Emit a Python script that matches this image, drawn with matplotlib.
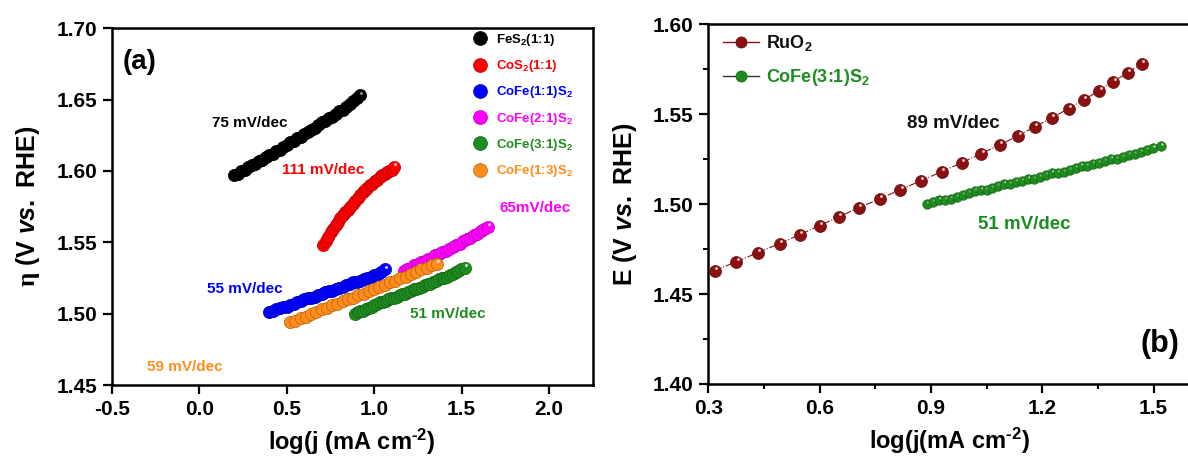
import matplotlib
matplotlib.use("Agg")
import matplotlib.pyplot as plt
from matplotlib.lines import Line2D
from matplotlib.ticker import MultipleLocator, FormatStrFormatter
from matplotlib.transforms import ScaledTranslation
from matplotlib.colors import to_rgb

plt.rcParams.update({
    "font.family": ["Liberation Sans", "DejaVu Sans"],
    "font.weight": "bold",
    "mathtext.fontset": "custom",
    "mathtext.rm": "Liberation Sans:bold",
    "mathtext.it": "Liberation Sans:bold:italic",
    "mathtext.bf": "Liberation Sans:bold",
    "mathtext.sf": "Liberation Serif",
    "axes.linewidth": 1.8,
})

# ---------------- panel (a): Tafel plots of the sulfides ----------------
fes2_x = [0.20, 0.22, 0.24, 0.26, 0.28, 0.30, 0.32, 0.34, 0.36, 0.38, 0.40, 0.42,
          0.44, 0.46, 0.48, 0.50, 0.52, 0.54, 0.56, 0.58, 0.60, 0.62, 0.64, 0.66,
          0.68, 0.70, 0.72, 0.74, 0.76, 0.78, 0.80, 0.82, 0.84, 0.86, 0.88, 0.90, 0.92]
fes2_y = [1.597, 1.598, 1.600, 1.601, 1.603, 1.604, 1.605, 1.607, 1.608, 1.610, 1.611, 1.612,
          1.614, 1.615, 1.617, 1.618, 1.620, 1.621, 1.623, 1.624, 1.626, 1.627, 1.629, 1.630,
          1.632, 1.634, 1.635, 1.637, 1.638, 1.640, 1.642, 1.643, 1.645, 1.647, 1.649, 1.651, 1.653]

cos2_x = [0.710, 0.724, 0.738, 0.752, 0.766, 0.780, 0.794, 0.808, 0.822, 0.836,
          0.850, 0.864, 0.878, 0.892, 0.906, 0.920, 0.934, 0.948, 0.962, 0.976,
          0.990, 1.004, 1.018, 1.032, 1.046, 1.060, 1.074, 1.088, 1.102, 1.115]
cos2_y = [1.548, 1.551, 1.554, 1.557, 1.559, 1.562, 1.564, 1.567, 1.569, 1.571,
          1.573, 1.575, 1.577, 1.579, 1.581, 1.583, 1.585, 1.587, 1.588, 1.590,
          1.591, 1.593, 1.594, 1.596, 1.597, 1.598, 1.599, 1.600, 1.601, 1.603]

cofe11_x = [0.40, 0.42, 0.44, 0.46, 0.48, 0.50, 0.52, 0.54, 0.56, 0.58, 0.60, 0.62,
            0.64, 0.66, 0.68, 0.70, 0.72, 0.74, 0.76, 0.78, 0.80, 0.82, 0.84, 0.86,
            0.88, 0.90, 0.92, 0.94, 0.96, 0.98, 1.00, 1.02, 1.04, 1.06]
cofe11_y = [1.501, 1.502, 1.503, 1.504, 1.505, 1.505, 1.506, 1.507, 1.508, 1.509, 1.510, 1.511,
            1.511, 1.512, 1.513, 1.514, 1.515, 1.516, 1.516, 1.517, 1.518, 1.519, 1.520, 1.521,
            1.522, 1.522, 1.523, 1.524, 1.525, 1.526, 1.527, 1.528, 1.529, 1.531]

cofe21_x = [1.17, 1.19, 1.21, 1.23, 1.25, 1.27, 1.29, 1.31, 1.33, 1.35, 1.37, 1.39, 1.41,
            1.43, 1.45, 1.47, 1.49, 1.51, 1.53, 1.55, 1.57, 1.59, 1.61, 1.63, 1.65]
cofe21_y = [1.530, 1.531, 1.532, 1.534, 1.535, 1.536, 1.537, 1.538, 1.539, 1.541, 1.542, 1.543,
            1.544, 1.545, 1.547, 1.548, 1.549, 1.551, 1.552, 1.553, 1.555, 1.556, 1.558, 1.559, 1.561]

cofe31_x = [0.890, 0.906, 0.922, 0.938, 0.954, 0.970, 0.986, 1.002, 1.018, 1.034,
            1.050, 1.066, 1.082, 1.098, 1.114, 1.130, 1.146, 1.162, 1.178, 1.194,
            1.210, 1.226, 1.242, 1.258, 1.274, 1.290, 1.306, 1.322, 1.338, 1.354,
            1.370, 1.386, 1.402, 1.418, 1.434, 1.450, 1.466, 1.482, 1.498, 1.520]
cofe31_y = [1.500, 1.501, 1.502, 1.502, 1.503, 1.504, 1.505, 1.506, 1.507, 1.508,
            1.508, 1.509, 1.510, 1.511, 1.511, 1.512, 1.513, 1.514, 1.514, 1.515,
            1.516, 1.517, 1.517, 1.518, 1.519, 1.520, 1.521, 1.521, 1.522, 1.523,
            1.524, 1.525, 1.525, 1.526, 1.527, 1.528, 1.529, 1.530, 1.531, 1.532]

cofe13_x = [0.52, 0.55, 0.58, 0.61, 0.64, 0.67, 0.70, 0.73, 0.76, 0.79, 0.82, 0.85, 0.88,
            0.91, 0.94, 0.97, 1.00, 1.03, 1.06, 1.09, 1.12, 1.15, 1.18, 1.21, 1.24, 1.27,
            1.30, 1.33, 1.36]
cofe13_y = [1.494, 1.495, 1.497, 1.498, 1.500, 1.501, 1.503, 1.504, 1.506, 1.507, 1.509, 1.510,
            1.511, 1.513, 1.514, 1.516, 1.517, 1.519, 1.520, 1.522, 1.523, 1.525, 1.526, 1.528,
            1.529, 1.531, 1.532, 1.534, 1.535]

labels_a = ["FeS$_2$(1:1)", "CoS$_2$(1:1)", "CoFe(1:1)S$_2$",
            "CoFe(2:1)S$_2$", "CoFe(3:1)S$_2$", "CoFe(1:3)S$_2$"]
colors_a = ["#000000", "#ff0000", "#0000ff", "#ff00ff", "#1e8c1e", "#ff8c1a"]
slopes_a = ["75 mV/dec", "111 mV/dec", "55 mV/dec", "65mV/dec", "51 mV/dec", "59 mV/dec"]
slope_pos_a = [(0.29, 1.6335), (0.71, 1.6005), (0.26, 1.5175), (1.92, 1.574),
               (1.42, 1.4995), (-0.08, 1.4628)]

# ---------------- panel (b): RuO2 reference vs CoFe(3:1)S2 ----------------
ruo2_x = [0.318, 0.376, 0.434, 0.492, 0.547, 0.600, 0.653, 0.707, 0.763, 0.818,
          0.874, 0.929, 0.984, 1.036, 1.087, 1.136, 1.181, 1.227, 1.271, 1.313,
          1.354, 1.392, 1.431, 1.468]
ruo2_y = [1.463, 1.468, 1.473, 1.478, 1.483, 1.488, 1.493, 1.498, 1.503, 1.508,
          1.513, 1.518, 1.523, 1.528, 1.533, 1.538, 1.543, 1.548, 1.553, 1.558,
          1.563, 1.568, 1.573, 1.578]

labels_b = ["RuO$_2$", "CoFe(3:1)S$_2$"]
colors_b = ["#8b1010", "#1e8c1e"]
line_colors_b = ["#8b1010", "#333333"]

fig = plt.figure(figsize=(11.88, 4.59), dpi=100)
ax_a = fig.add_axes([0.0940, 0.1612, 0.4049, 0.7771])
ax_b = fig.add_axes([0.5962, 0.1634, 0.4060, 0.7843])


def lighten(c, f):
    r, g, b = to_rgb(c)
    return (r + (1 - r) * f, g + (1 - g) * f, b + (1 - b) * f)


def darken(c, f):
    r, g, b = to_rgb(c)
    return (r * (1 - f), g * (1 - f), b * (1 - f))


def draw_spheres(ax, xs, ys, color, ms, z=3):
    """Shaded balls: body plus a small glint, drawn point by point."""
    glint = ScaledTranslation(ms * 0.10 / 72, ms * 0.22 / 72, fig.dpi_scale_trans)
    hl = lighten(color, 0.8) if color != "#000000" else (0.6, 0.6, 0.6)
    for xi, yi in zip(xs, ys):
        ax.plot([xi], [yi], ls="none", marker="o", ms=ms, mfc=color,
                mec=darken(color, 0.3), mew=0.5, zorder=z)
        ax.plot([xi], [yi], ls="none", marker="o", ms=ms * 0.24, mfc=hl,
                mec="none", zorder=z, transform=ax.transData + glint)


series_a = [(fes2_x, fes2_y), (cos2_x, cos2_y), (cofe11_x, cofe11_y),
            (cofe21_x, cofe21_y), (cofe31_x, cofe31_y), (cofe13_x, cofe13_y)]
for (xs, ys), col in zip(series_a, colors_a):
    draw_spheres(ax_a, xs, ys, col, 8.8)

for txt, col, (tx, ty) in zip(slopes_a, colors_a, slope_pos_a):
    ax_a.text(tx, ty, txt, color=col, fontsize=11, fontweight="bold",
              ha="center", va="center")

ax_a.text(-0.342, 1.6767, "(a)", fontsize=20, fontweight="bold",
          ha="center", va="center")

handles_a = [Line2D([], [], ls="none", marker="o", ms=10, mfc=c,
                    mec=darken(c, 0.3), mew=0.5) for c in colors_a]
leg_a = ax_a.legend(handles_a, labels_a, loc="upper left",
                    bbox_to_anchor=(0.752, 0.99), frameon=False, fontsize=9.5,
                    handlelength=1.0, handletextpad=0.7, labelspacing=0.78,
                    borderaxespad=0, borderpad=0)
for t, c in zip(leg_a.get_texts(), colors_a):
    t.set_color(c)

ax_a.set_xlim(-0.5, 2.25)
ax_a.set_ylim(1.45, 1.70)
ax_a.xaxis.set_major_locator(MultipleLocator(0.5))
ax_a.yaxis.set_major_locator(MultipleLocator(0.05))
ax_a.xaxis.set_major_formatter(FormatStrFormatter("%.1f"))
ax_a.yaxis.set_major_formatter(FormatStrFormatter("%.2f"))
ax_a.set_xlabel(r"log(j (mA cm$^{\text{-2}}$)", fontsize=17, fontweight="bold",
                labelpad=6)
ax_a.set_ylabel(r"$\mathsf{\eta}$ (V $\mathit{vs.}$ RHE)", fontsize=18,
                fontweight="bold", labelpad=10)

# panel (b)
ax_b.plot(ruo2_x, ruo2_y, color=line_colors_b[0], lw=0.8, ls="-.", zorder=2)
ax_b.plot(cofe31_x, cofe31_y, color=line_colors_b[1], lw=0.8, ls="-.", zorder=2)
draw_spheres(ax_b, ruo2_x, ruo2_y, colors_b[0], 8.6)
draw_spheres(ax_b, cofe31_x, cofe31_y, colors_b[1], 6.8)

ax_b.text(0.961, 1.545, "89 mV/dec", color="#111111", fontsize=13.5,
          fontweight="bold", ha="center", va="center")
ax_b.text(1.152, 1.4885, "51 mV/dec", color=colors_b[1], fontsize=13.5,
          fontweight="bold", ha="center", va="center")
ax_b.text(1.518, 1.4223, "(b)", fontsize=22, fontweight="bold",
          ha="center", va="center")

handles_b = [Line2D([], [], color=lc, lw=1.0, marker="o", ms=8, mfc=c,
                    mec=darken(c, 0.3), mew=0.5)
             for c, lc in zip(colors_b, line_colors_b)]
leg_b = ax_b.legend(handles_b, labels_b, loc="upper left",
                    bbox_to_anchor=(0.03, 0.975), frameon=False, fontsize=13,
                    handlelength=2.0, handletextpad=0.4, labelspacing=0.8,
                    borderaxespad=0, borderpad=0)
for t, c in zip(leg_b.get_texts(), ["#111111", colors_b[1]]):
    t.set_color(c)

ax_b.set_xlim(0.3, 1.6)
ax_b.set_ylim(1.40, 1.60)
ax_b.xaxis.set_major_locator(MultipleLocator(0.3))
ax_b.xaxis.set_minor_locator(MultipleLocator(0.15))
ax_b.yaxis.set_major_locator(MultipleLocator(0.05))
ax_b.yaxis.set_minor_locator(MultipleLocator(0.025))
ax_b.xaxis.set_major_formatter(FormatStrFormatter("%.1f"))
ax_b.yaxis.set_major_formatter(FormatStrFormatter("%.2f"))
ax_b.set_xlabel(r"log(j(mA cm$^{\text{-2}}$)", fontsize=17, fontweight="bold",
                labelpad=6)
ax_b.set_ylabel(r"E (V $\mathit{vs.}$ RHE)", fontsize=18, fontweight="bold",
                labelpad=10)

for ax in (ax_a, ax_b):
    ax.tick_params(which="major", direction="out", length=6.5, width=1.6,
                   labelsize=15, pad=4)
    ax.tick_params(which="minor", direction="out", length=3.5, width=1.4)
    for lab in ax.get_xticklabels() + ax.get_yticklabels():
        lab.set_fontweight("bold")

fig.savefig("out.png", dpi=100)
